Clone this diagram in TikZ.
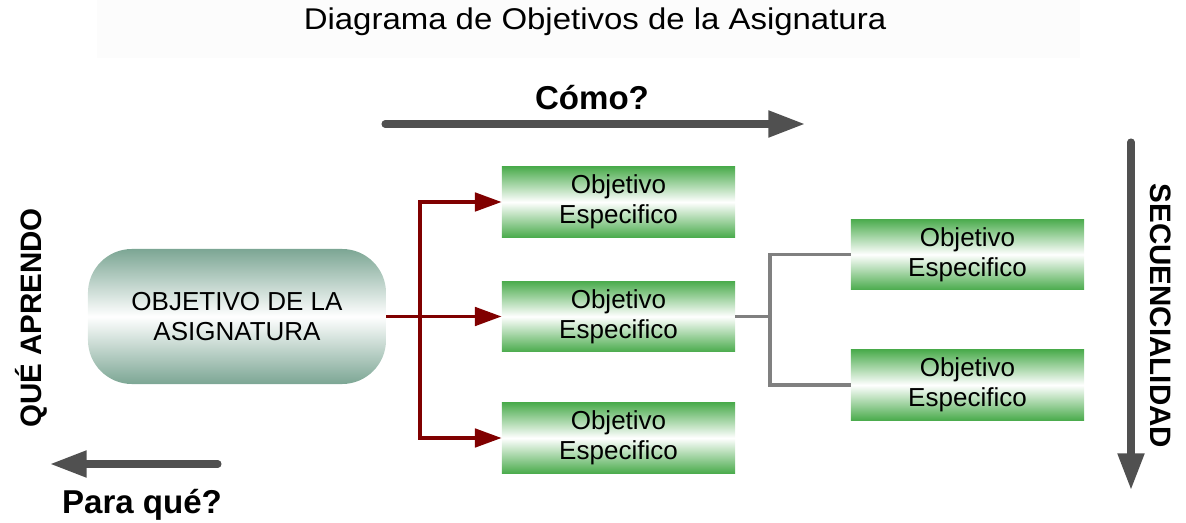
\documentclass[tikz,border=0pt]{standalone}
\usepackage{fontspec}
\setmainfont{Liberation Sans}
\usetikzlibrary{arrows.meta, positioning}
\definecolor{colArrow}{RGB}{80,80,80}
\definecolor{colLink}{RGB}{128,0,0}
\definecolor{colJoin}{RGB}{128,128,128}
\definecolor{colGoal}{RGB}{124,166,148}
\definecolor{colSpec}{RGB}{76,172,78}

\begin{document}
\begin{tikzpicture}[
  x=0.025cm, y=-0.025cm,
  bigarr/.style={colArrow, line width=5pt, line cap=round,
                 -{Triangle[length=26pt, width=18pt]}},
  linkarr/.style={colLink, line width=2.8pt, -{Triangle[length=19pt, width=13pt]}},
  joinline/.style={colJoin, line width=2.2pt},
  goalbox/.style={rounded corners=1.1cm, minimum width=7.45cm, minimum height=3.375cm,
               top color=colGoal, bottom color=colGoal, middle color=white,
               align=center, font=\fontsize{18.5}{21.5}\selectfont},
  specbox/.style={minimum width=5.825cm, minimum height=1.75cm,
               top color=colSpec, bottom color=colSpec, middle color=white,
               align=center, font=\fontsize{18.5}{21.5}\selectfont},
  cue/.style={font=\bfseries\fontsize{23.5}{26}\selectfont},
  side/.style={font=\bfseries\fontsize{21}{24}\selectfont},
]
\useasboundingbox (0,0) rectangle (1186,523);

% Title
\fill[gray!2] (97,0) rectangle (1080,58);
\node[xscale=1.1, font=\fontsize{21.3}{24}\selectfont] (title) at (595,22)
  {Diagrama de Objetivos de la Asignatura};

% Guide arrows
\coordinate (howS) at (385,124);
\coordinate (howE) at (805,124);
\draw[bigarr] (howS) -- (howE);
\node[cue] (how) at (592,98) {Cómo?};

\coordinate (forS) at (218,464);
\coordinate (forE) at (50,464);
\draw[bigarr] (forS) -- (forE);
\node[cue] (whatfor) at (142,505) {Para qué?};

\coordinate (seqS) at (1131,142);
\coordinate (seqE) at (1131,490);
\draw[bigarr] (seqS) -- (seqE);
\node[side, rotate=-90] (seq) at (1161,316) {SECUENCIALIDAD};
\node[side, rotate=90] (learn) at (31,318) {QUÉ APRENDO};

% Goal and specific objectives
\node[goalbox] (goal) at (237,316.5) {OBJETIVO DE LA\\ASIGNATURA};
\node[specbox] (specA) at (618.5,202) {Objetivo\\Especifico};
\node[specbox] (specB) at (618.5,316.5) {Objetivo\\Especifico};
\node[specbox] (specC) at (618.5,438) {Objetivo\\Especifico};
\node[specbox] (specD) at (967.5,254.5) {Objetivo\\Especifico};
\node[specbox] (specE) at (967.5,385) {Objetivo\\Especifico};

% Connectors
\coordinate (split) at (420,316.5);
\draw[colLink, line width=2.8pt] (goal.east) -- (split);
\foreach \s in {specA, specB, specC}
  \draw[linkarr] (split) |- (\s.west);

\coordinate (merge) at (770,316.5);
\draw[joinline] (specB.east) -- (merge);
\foreach \s in {specD, specE}
  \draw[joinline] (merge) |- (\s.west);
\end{tikzpicture}
\end{document}
